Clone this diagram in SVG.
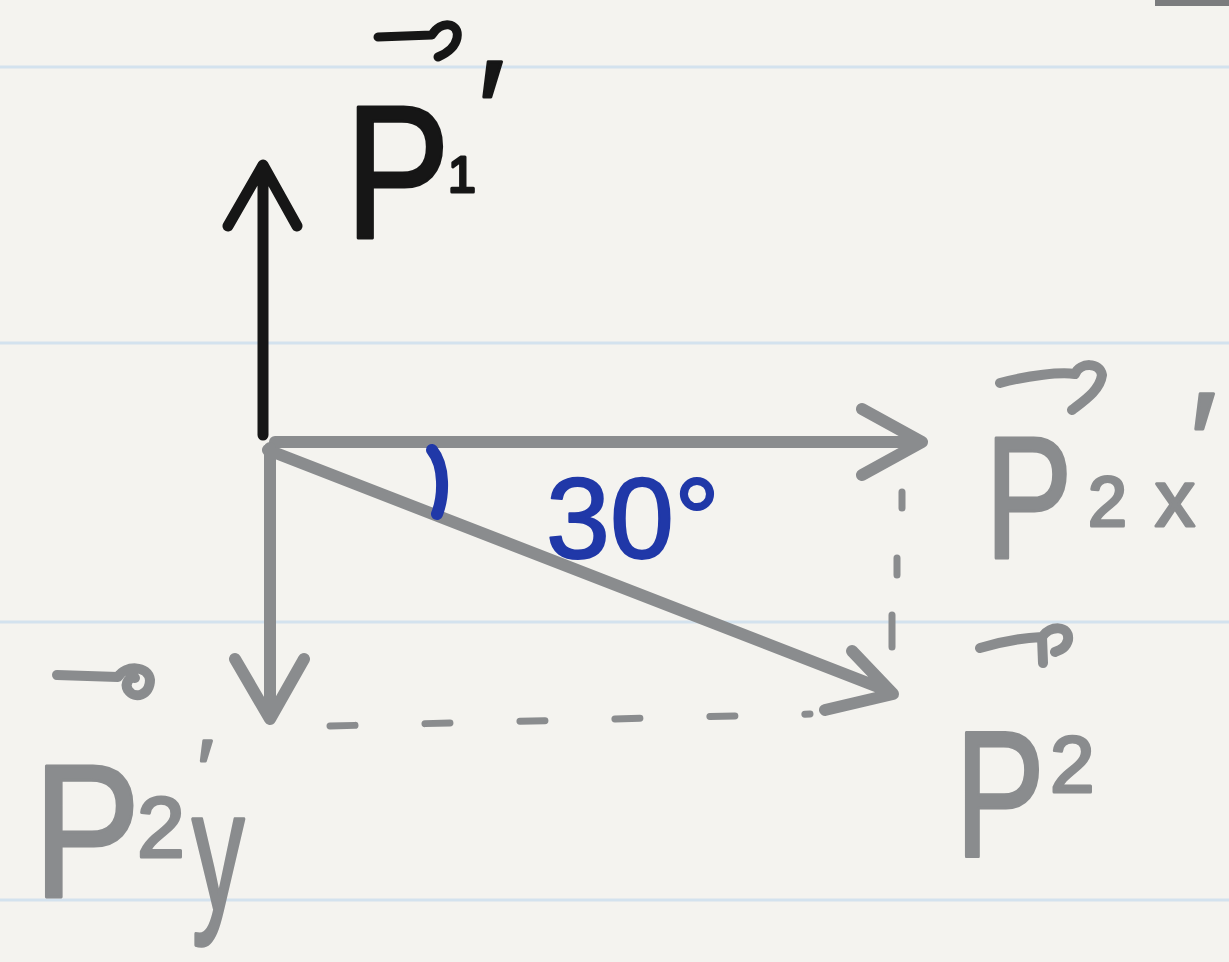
<svg xmlns="http://www.w3.org/2000/svg" width="1229" height="962" viewBox="0 0 1229 962">
<style>
.rule{stroke:#d3e2ee;stroke-width:3}
.blk{stroke:#161616;fill:none;stroke-linecap:round;stroke-linejoin:round}
.gry{stroke:#8a8c8e;fill:none;stroke-linecap:round;stroke-linejoin:round}
.blu{stroke:#2038a8;fill:none;stroke-linecap:round}
.lbl{font-family:"Liberation Sans",Arial,sans-serif;stroke-linejoin:round}
.tb{fill:#161616;stroke:#161616;stroke-width:3}
.tg{fill:#8a8c8e;stroke:#8a8c8e;stroke-width:3}
.tblu{fill:#2038a8;stroke:#2038a8;stroke-width:2}
</style>
<rect width="1229" height="962" fill="#f4f3ef"/>
<g id="ruling">
<line class="rule" x1="0" y1="67" x2="1229" y2="67"/>
<line class="rule" x1="0" y1="343" x2="1229" y2="343"/>
<line class="rule" x1="0" y1="622" x2="1229" y2="622"/>
<line class="rule" x1="0" y1="900" x2="1229" y2="900"/>
</g>
<rect x="1155" y="0" width="74" height="6" fill="#7b7c7e"/>
<g id="connectors">
<path class="blk" stroke-width="11" d="M263,435 L263,168 M228,226 L263,165 L297,226"/>
<path class="gry" stroke-width="12" d="M275,442 L922,442 M862,409 L922,442 L862,475"/>
<path class="gry" stroke-width="12" d="M268,450 L891,692 M852,651 L893,694 L825,710"/>
<path class="gry" stroke-width="12" d="M270,448 L270,717 M235,659 L270,719 L304,659"/>
<path class="gry" stroke-width="7" stroke-dasharray="25 70" d="M330,726 L810,714"/>
<path class="gry" stroke-width="7" d="M902,492 L902,508 M897,558 L897,575 M892,615 L892,647"/>
<path class="blu" stroke-width="12" d="M432,450 C445,466 444,496 437,514"/>
</g>
<g id="angle">
<text class="lbl tblu" x="546" y="558" font-size="115">30°</text>
</g>
<g id="p1prime">
<path class="blk" stroke-width="9" d="M378,37 L432,35 C440,20 460,22 457,38 C455,48 445,54 438,57"/>
<text class="lbl tb" transform="translate(345,238) scale(0.83,1)" font-size="190">P</text>
<text class="lbl tb" x="448" y="192" font-size="50">1</text>
<text class="lbl tb" x="478" y="158" font-size="140">′</text>
</g>
<g id="p2xprime">
<path class="gry" stroke-width="10" d="M1000,383 C1030,375 1060,372 1075,374 C1080,362 1100,362 1102,375 C1100,390 1085,400 1072,410"/>
<text class="lbl tg" transform="translate(985,558) scale(0.75,1)" font-size="175">P</text>
<text class="lbl tg" x="1088" y="526" font-size="70">2</text>
<text class="lbl tg" x="1155" y="526" font-size="80">x</text>
<text class="lbl tg" x="1190" y="490" font-size="140">′</text>
</g>
<g id="p2">
<path class="gry" stroke-width="10" d="M980,648 C1000,642 1020,638 1042,637 L1043,663 M1042,637 C1050,625 1070,625 1068,640 C1066,648 1060,650 1055,652"/>
<text class="lbl tg" transform="translate(955,856) scale(0.75,1)" font-size="180">P</text>
<text class="lbl tg" x="1050" y="792" font-size="80">2</text>
</g>
<g id="p2yprime">
<path class="gry" stroke-width="10" d="M57,675 L118,677 C125,665 148,665 150,680 C150,695 135,700 128,690 C124,683 130,676 135,678"/>
<text class="lbl tg" transform="translate(33,897) scale(0.85,1)" font-size="190">P</text>
<text class="lbl tg"><tspan x="137" y="857" font-size="86">2</tspan><tspan x="198" y="796" font-size="80">′</tspan></text>
<text class="lbl tg" transform="translate(192,910) scale(0.7,1.15)" font-size="150">y</text>
</g>
</svg>
